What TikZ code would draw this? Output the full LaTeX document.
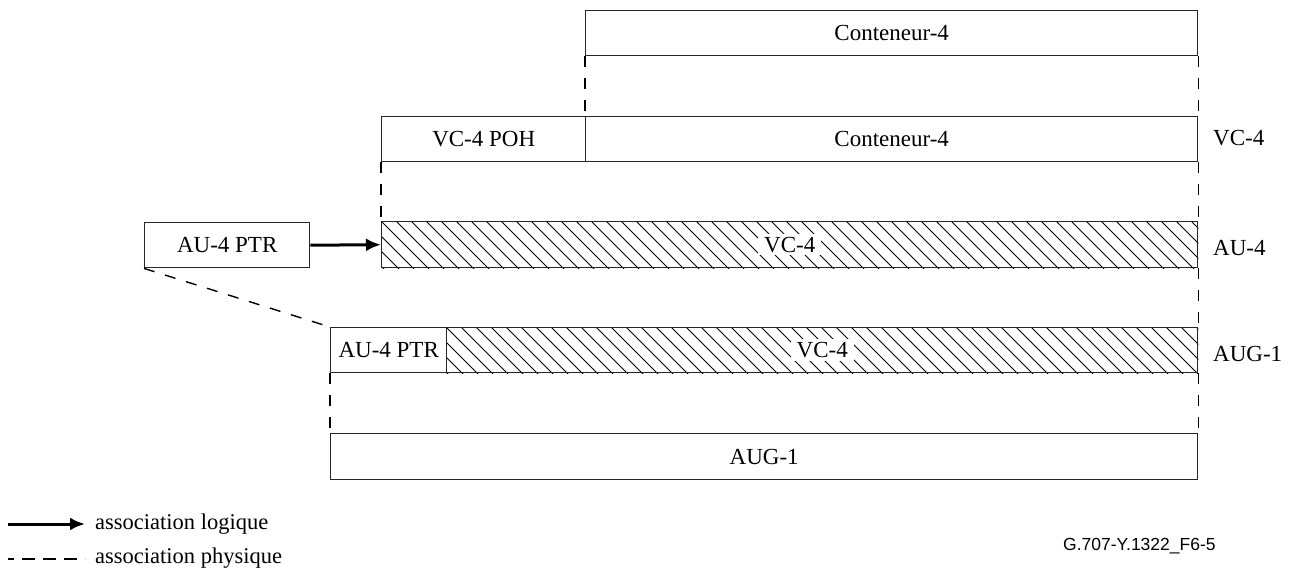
\documentclass[tikz,border=0pt]{standalone}
\usepackage{fontspec}
\setmainfont{Liberation Serif}
\newfontfamily\labelsans{Liberation Sans}
\usetikzlibrary{arrows.meta,calc}
\begin{document}
\begin{tikzpicture}[x=1pt,y=-1pt,
  every node/.style={font=\fontsize{23}{27}\selectfont},
  box/.style={draw=black!85, line width=1.4pt, inner sep=0pt, anchor=north west},
  hatchline/.style={draw=black, line width=0.9pt},
  txt/.style={fill=white, draw=none, inner xsep=6pt, inner ysep=3pt},
  rlabel/.style={anchor=west, inner sep=0pt},
  dashline/.style={draw=black, line width=1.4pt, dash pattern=on 11pt off 11pt},
  logic/.style={draw=black, line width=3pt, -{Latex[length=15pt,width=13pt]}}
]
\useasboundingbox (0,0) rectangle (1291,571);

% Row 1
\node[box, minimum width=612pt, minimum height=45pt] (c4top) at (585,10) {Conteneur-4};
% Row 2 : VC-4
\node[box, minimum width=204pt, minimum height=45pt] (poh) at (381,116) {VC-4 POH};
\node[box, minimum width=612pt, minimum height=45pt] (c4) at (585,116) {Conteneur-4};
% Row 3 : AU-4
\node[box, minimum width=165pt, minimum height=45pt] (ptr) at (144,222) {AU-4 PTR};
\node[box, minimum width=816pt, minimum height=46pt] (au4) at (381,221) {};
\begin{scope}
  \clip (au4.north west) rectangle (au4.south east);
  \foreach \i in {-60,-45,...,840} {
    \draw[hatchline] ($(au4.north west)+(\i,0)$) -- ++(60,60);
  }
\end{scope}
\node[box, minimum width=816pt, minimum height=46pt] at (381,221) {};
\node[txt] (au4t) at (au4.center) {VC-4};
% Row 4 : AUG-1
\node[box, minimum width=116pt, minimum height=45pt] (ptr2) at (330,327) {AU-4 PTR};
\node[box, minimum width=751pt, minimum height=45pt] (aug) at (446,327) {};
\begin{scope}
  \clip (aug.north west) rectangle (aug.south east);
  \foreach \i in {-60,-45,...,780} {
    \draw[hatchline] ($(aug.north west)+(\i,0)$) -- ++(60,60);
  }
\end{scope}
\node[box, minimum width=751pt, minimum height=45pt] at (446,327) {};
\node[txt] (augt) at (aug.center) {VC-4};
% Row 5
\node[box, minimum width=867pt, minimum height=46pt] (augb) at (330,433) {AUG-1};

% right labels
\node[rlabel] (l1) at (1213,138) {VC-4};
\node[rlabel] (l2) at (1213,248) {AU-4};
\node[rlabel] (l3) at (1213,354) {AUG-1};

% dashed physical associations
\draw[dashline] (c4top.south west) -- (c4.north west);
\draw[dashline] (c4top.south east) -- (c4.north east);
\draw[dashline] (poh.south west) -- (au4.north west);
\draw[dashline] (c4.south east) -- (au4.north east);
\draw[dashline] (au4.south east) -- (aug.north east);
\draw[dashline] (ptr2.south west) -- (augb.north west);
\draw[dashline] (aug.south east) -- (augb.north east);
\draw[dashline] (ptr.south west) -- (ptr2.north west);

% logical association
\draw[logic] (ptr.east) -- (au4.west);

% legend
\coordinate (la) at (8,524);
\coordinate (lb) at (85,524);
\coordinate (pa) at (8,559);
\coordinate (pb) at (85,559);
\draw[logic] (la) -- (lb);
\draw[draw=black, line width=1.4pt, dash pattern=on 13pt off 8pt, dash phase=7pt] (pa) -- (pb);
\node[anchor=base west, inner sep=0pt, font=\fontsize{22.5}{27}\selectfont] (lt1) at (95,529) {association logique};
\node[anchor=base west, inner sep=0pt, font=\fontsize{22.5}{27}\selectfont] (lt2) at (95,563) {association physique};

\node[anchor=west, inner sep=0pt, font=\labelsans\fontsize{17.5}{20}\selectfont] (ref) at (1063,546) {G.707-Y.1322\_F6-5};
\end{tikzpicture}
\end{document}
